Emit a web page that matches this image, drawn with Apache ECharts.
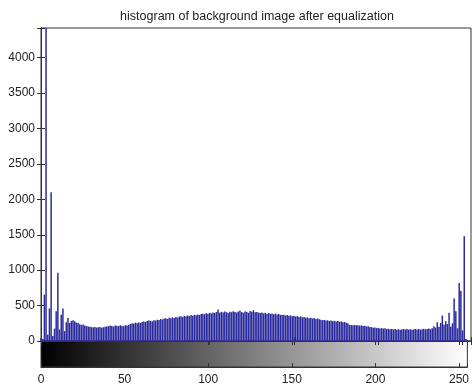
<!DOCTYPE html>
<html lang="en">
  <head>
    <meta charset="UTF-8" />
    <title>histogram</title>
    <script src="https://cdn.jsdelivr.net/npm/echarts@6/dist/echarts.min.js"></script>
    <style>
      html, body { margin: 0; padding: 0; background: #fff; }
      #main { width: 472px; height: 388px; }
    </style>
  </head>
  <body>
    <div id="main"></div>
    <script>
      const titleText = 'histogram of background image after equalization'
      const xTicks = [0, 50, 100, 150, 200, 250]
      const yTicks = [0, 500, 1000, 1500, 2000, 2500, 3000, 3500, 4000]
      const yMax = 4420
      // pixel counts for gray levels 0..255
      const counts = [
        40, 30, 655, 4420, 90, 460, 2100, 70, 175, 420, 965, 160, 370, 460, 140, 265,
        325, 255, 283, 293, 278, 260, 255, 235, 228, 232, 220, 212, 206, 200, 196, 192,
        198, 190, 194, 196, 188, 195, 200, 205, 210, 218, 212, 204, 220, 214, 210, 222,
        216, 208, 224, 218, 226, 240, 252, 246, 258, 250, 262, 256, 270, 276, 268, 282,
        290, 284, 278, 294, 288, 300, 296, 310, 304, 316, 322, 312, 328, 320, 334, 326,
        338, 332, 344, 350, 340, 356, 348, 362, 352, 366, 358, 370, 362, 374, 368, 380,
        386, 378, 392, 384, 398, 390, 404, 396, 410, 445, 400, 412, 404, 418, 408, 396,
        414, 406, 420, 410, 402, 416, 430, 408, 400, 418, 412, 398, 422, 414, 435, 406,
        410, 402, 396, 404, 390, 398, 386, 394, 384, 390, 378, 386, 374, 382, 370, 366,
        372, 360, 368, 356, 362, 350, 358, 346, 352, 340, 346, 334, 340, 328, 334, 322,
        328, 318, 324, 312, 318, 306, 300, 294, 298, 288, 292, 284, 288, 280, 286, 276,
        282, 272, 276, 266, 270, 258, 250, 228, 226, 224, 226, 222, 224, 218, 220, 212,
        214, 206, 208, 198, 196, 188, 190, 182, 186, 178, 182, 176, 180, 168, 172, 166,
        170, 164, 168, 160, 166, 158, 164, 170, 162, 168, 160, 166, 158, 164, 170, 162,
        168, 160, 166, 172, 164, 170, 176, 168, 180, 210, 190, 265, 200, 255, 360, 230,
        280, 240, 400, 200, 250, 600, 420, 180, 820, 710, 150, 1480, 30, 10, 5, 5
      ]
      const grayLevels = counts.map((_, i) => i)

      const myChart = echarts.init(document.getElementById('main'))
      const axisColor = '#333'
      const font = 'Liberation Sans, Arial, sans-serif'

      const ticks = { show: true, inside: true, length: 4, lineStyle: { color: axisColor, width: 1 } }
      const xBase = { type: 'value', min: 0, max: 255, interval: 50, splitLine: { show: false } }

      const option = {
        animation: false,
        title: {
          text: titleText,
          left: 252,
          top: 5,
          textAlign: 'center',
          textStyle: { fontSize: 12.5, fontWeight: 'normal', color: '#222', fontFamily: font },
        },
        grid: [
          { left: 41, right: 1, top: 28, height: 313, show: true, borderColor: axisColor, backgroundColor: '#fff' },
          {
            left: 41, right: 1, top: 341, height: 26, show: true, borderColor: axisColor,
            backgroundColor: new echarts.graphic.LinearGradient(0, 0, 1, 0, [
              { offset: 0, color: '#000' },
              { offset: 1, color: '#fff' },
            ]),
          },
        ],
        xAxis: [
          { ...xBase, gridIndex: 0, position: 'bottom', axisLine: { lineStyle: { color: axisColor } }, axisTick: ticks, axisLabel: { show: false } },
          { ...xBase, gridIndex: 0, position: 'top', axisLine: { lineStyle: { color: axisColor } }, axisTick: ticks, axisLabel: { show: false } },
          {
            ...xBase, gridIndex: 1, position: 'bottom', axisLine: { lineStyle: { color: axisColor } }, axisTick: ticks,
            axisLabel: { show: true, margin: 7, fontSize: 12, color: '#222', fontFamily: font, formatter: (v) => (xTicks.includes(v) ? String(v) : '') },
          },
          { ...xBase, gridIndex: 1, position: 'top', axisLine: { lineStyle: { color: axisColor } }, axisTick: ticks, axisLabel: { show: false } },
        ],
        yAxis: [
          {
            type: 'value', gridIndex: 0, position: 'left', min: 0, max: yMax, interval: 500,
            splitLine: { show: false },
            axisLine: { show: true, lineStyle: { color: axisColor } },
            axisTick: ticks,
            axisLabel: { margin: 6, fontSize: 12, color: '#222', fontFamily: font, formatter: (v) => (yTicks.includes(v) ? String(v) : '') },
          },
          {
            type: 'value', gridIndex: 0, position: 'right', min: 0, max: yMax, interval: 500,
            splitLine: { show: false },
            axisLine: { show: true, lineStyle: { color: axisColor } },
            axisTick: ticks,
            axisLabel: { show: false },
          },
          {
            type: 'value', gridIndex: 1, min: 0, max: 1,
            splitLine: { show: false }, axisLine: { show: false }, axisTick: { show: false }, axisLabel: { show: false },
          },
        ],
        series: [
          {
            type: 'bar',
            xAxisIndex: 0,
            yAxisIndex: 0,
            barWidth: 1.5,
            itemStyle: { color: '#2b2b9e' },
            data: grayLevels.map((g, i) => [g, counts[i]]),
          },
        ],
      }

      myChart.setOption(option)
    </script>
  </body>
</html>
